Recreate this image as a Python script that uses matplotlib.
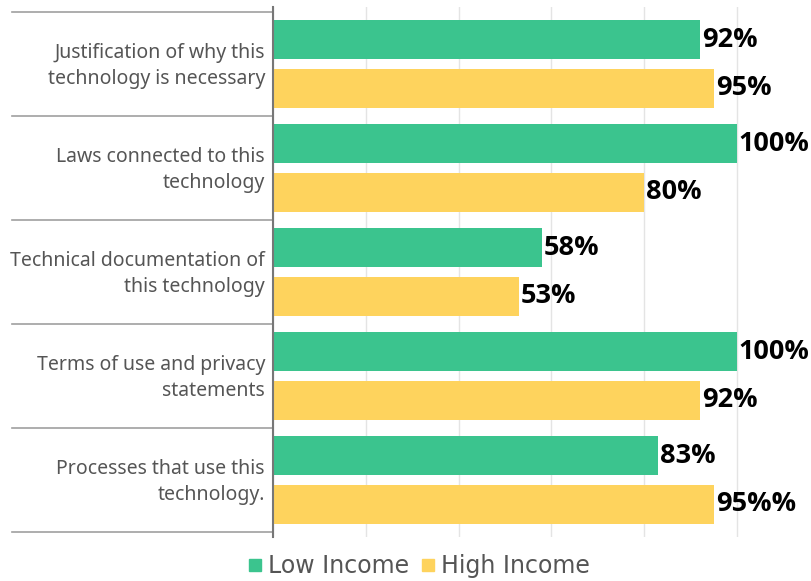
import numpy as np
import matplotlib.pyplot as plt
from matplotlib.transforms import blended_transform_factory
from matplotlib.lines import Line2D

categories = [
    "Justification of why this\ntechnology is necessary",
    "Laws connected to this\ntechnology",
    "Technical documentation of\nthis technology",
    "Terms of use and privacy\nstatements",
    "Processes that use this\ntechnology.",
]
low_income = [92, 100, 58, 100, 83]
high_income = [95, 80, 53, 92, 95]
low_labels = ["92%", "100%", "58%", "100%", "83%"]
high_labels = ["95%", "80%", "53%", "92%", "95%%"]
series_names = ["Low Income", "High Income"]

GREEN = "#3bc48e"
YELLOW = "#fed35d"
W, H = 812, 581

fig = plt.figure(figsize=(W / 100, H / 100), dpi=100)
ax = fig.add_axes([273 / W, 1 - 537 / H, (W - 273) / W, 530 / H])

y = np.arange(len(categories))
bh = 0.38
off = 0.235
ax.barh(y - off, low_income, bh, color=GREEN, zorder=2)
ax.barh(y + off, high_income, bh, color=YELLOW, zorder=2)

# value labels
for yi, v, s in zip(y - off, low_income, low_labels):
    ax.text(v + 0.4, yi, s, va="center", ha="left", fontsize=19.5,
            fontweight="bold", family="Open Sans", color="black", zorder=3)
for yi, v, s in zip(y + off, high_income, high_labels):
    ax.text(v + 0.4, yi, s, va="center", ha="left", fontsize=19.5,
            fontweight="bold", family="Open Sans", color="black", zorder=3)

pad = 5 / 104
ax.set_ylim(len(categories) - 0.5 + pad, -0.5 - pad)
ax.set_xlim(0, (W - 273) / 4.64)
ax.set_xticks([0, 20, 40, 60, 80, 100])
ax.set_xticklabels([])
ax.tick_params(axis="x", length=0)
ax.set_yticks([])
ax.grid(axis="x", color="#e4e4e4", linewidth=1, zorder=0)
for side in ["top", "right", "bottom"]:
    ax.spines[side].set_visible(False)
ax.spines["left"].set_color("#777777")
ax.spines["left"].set_linewidth(1.5)
ax.spines["left"].set_zorder(4)

# category labels and separators in the left margin
tr = blended_transform_factory(fig.transFigure, ax.transData)
for b in np.arange(-0.5, len(categories), 1.0):
    ax.plot([12 / W, 273 / W], [b, b], transform=tr, color="#a0a0a0",
            linewidth=1.2, clip_on=False)
for yi, lab in zip(y, categories):
    ax.text(265 / W, yi + 0.02, lab, transform=tr, ha="right", va="center",
            fontsize=14, family="Noto Sans", color="#555555",
            linespacing=1.35)

handles = [
    Line2D([], [], marker="s", linestyle="none", markersize=8.5,
           markerfacecolor=GREEN, markeredgecolor=GREEN),
    Line2D([], [], marker="s", linestyle="none", markersize=8.5,
           markerfacecolor=YELLOW, markeredgecolor=YELLOW),
]
fig.legend(handles, series_names, loc="center", ncol=2,
           bbox_to_anchor=(418 / W, 1 - 566 / H), frameon=False,
           prop={"family": "DejaVu Sans", "size": 17}, labelcolor="#555555",
           handletextpad=0.15, columnspacing=0.4, handlelength=0.8,
           borderpad=0)

fig.savefig("out.png", dpi=100)
